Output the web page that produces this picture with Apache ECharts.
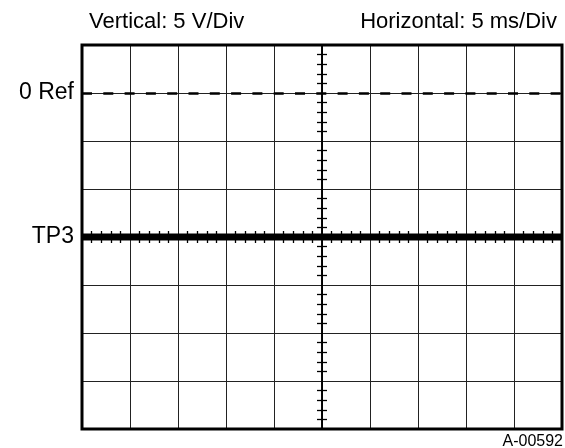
<!DOCTYPE html>
<html><head><meta charset="utf-8">
<script src="https://cdn.jsdelivr.net/npm/echarts@6/dist/echarts.min.js"></script>
<style>html,body{margin:0;padding:0;background:#fff}#c{width:565px;height:448px}</style>
</head><body><div id="c"></div>
<script>
// ---- data ----
const timeMs = [0, 5, 10, 15, 20, 25, 30, 35, 40, 45, 50];
const tp3Volts = [-15, -15, -15, -15, -15, -15, -15, -15, -15, -15, -15];
const refLevel = 0;
const yLabelText = { '0': '0 Ref', '-15': 'TP3' };
const titleVertical = 'Vertical: 5 V/Div';
const titleHorizontal = 'Horizontal: 5 ms/Div';
const figureId = 'A-00592';

// ---- styling ----
const FONT = '"Liberation Sans", Arial, Helvetica, sans-serif';
const box = { left: 82, right: 3, top: 45, bottom: 19 };

const tp3Data = timeMs.map((t, i) => [t, tp3Volts[i]]);

function overlayAxes(gi, inside) {
  const common = {
    type: 'value', gridIndex: gi, interval: 5,
    axisLabel: { show: false }, splitLine: { show: false },
    axisTick: { show: false, inside: inside },
    axisLine: { show: true, onZero: true, lineStyle: { color: '#000', width: 1.6 } }
  };
  return {
    x: Object.assign({}, common, { min: -25, max: 25,
      minorTick: { show: true, splitNumber: 5, length: 6, lineStyle: { color: '#000', width: 1.3 } } }),
    y: Object.assign({}, common, { min: -20, max: 20,
      minorTick: { show: true, splitNumber: 5, length: 5, lineStyle: { color: '#000', width: 1.3 } } })
  };
}
const ovOut = overlayAxes(1, false);
const ovIn = overlayAxes(2, true);

const chart = echarts.init(document.getElementById('c'), null, { renderer: 'canvas' });
chart.setOption({
  animation: false,
  backgroundColor: '#fff',
  grid: [
    Object.assign({ show: true, borderColor: '#000', borderWidth: 3, backgroundColor: 'transparent', z: 5 }, box),
    Object.assign({}, box),
    Object.assign({}, box)
  ],
  xAxis: [
    {
      type: 'value', gridIndex: 0, min: 0, max: 50, interval: 5,
      axisLine: { show: false }, axisTick: { show: false }, axisLabel: { show: false },
      splitLine: { show: true, lineStyle: { color: '#222', width: 1 } }
    },
    ovOut.x, ovIn.x
  ],
  yAxis: [
    {
      type: 'value', gridIndex: 0, min: -35, max: 5, interval: 5,
      axisLine: { show: false }, axisTick: { show: false },
      axisLabel: {
        show: true, margin: 8, color: '#000', fontSize: 23, fontFamily: FONT,
        formatter: v => yLabelText[String(v)] || ''
      },
      splitLine: { show: true, lineStyle: { color: '#222', width: 1 } }
    },
    ovOut.y, ovIn.y
  ],
  series: [
    {
      name: 'TP3', type: 'line', xAxisIndex: 0, yAxisIndex: 0,
      data: tp3Data, showSymbol: false, symbol: 'none',
      lineStyle: { color: '#000', width: 7 }, z: 3,
      markLine: {
        silent: true, symbol: ['none', 'none'], label: { show: false },
        lineStyle: { color: '#000', width: 2.5, type: [10, 11.3] },
        data: [{ yAxis: refLevel }]
      }
    }
  ],
  graphic: [
    { type: 'text', left: 89, top: 11, style: { text: titleVertical, fontSize: 22, fontFamily: FONT, fill: '#000' } },
    { type: 'text', right: 8, top: 11, style: { text: titleHorizontal, fontSize: 22, fontFamily: FONT, fill: '#000' } },
    { type: 'text', right: 2, top: 434, style: { text: figureId, fontSize: 16, fontFamily: FONT, fill: '#000' } }
  ]
});
</script></body></html>
